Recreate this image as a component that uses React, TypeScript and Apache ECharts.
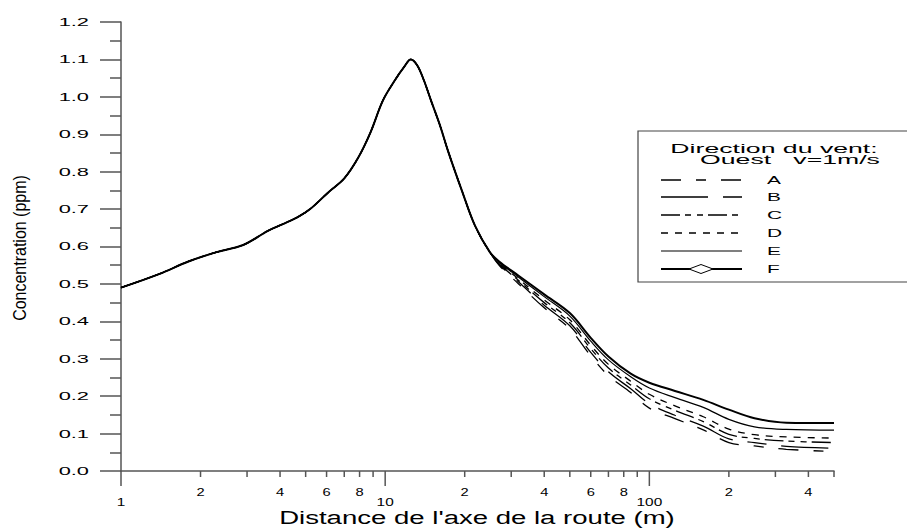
import React, { useEffect, useRef } from "react";
import * as echarts from "echarts";

const FONT = "'Liberation Sans', Arial, Helvetica, sans-serif";

// Shared part of all six curves (distance in m, concentration in ppm)
const xCommon = [1, 1.4, 1.8, 2.3, 2.9, 3.6, 4.1, 4.7, 5.2, 6.1, 7.0, 7.9, 8.8, 9.8, 10.9, 11.8, 12.5, 13.2, 14, 15, 16.1, 17.3, 19.5, 21.9, 24.9];
const yCommon = [0.49, 0.527, 0.56, 0.585, 0.604, 0.642, 0.66, 0.68, 0.70, 0.745, 0.782, 0.837, 0.905, 0.99, 1.045, 1.08, 1.1, 1.085, 1.045, 0.985, 0.925, 0.855, 0.75, 0.655, 0.585];

// Diverging tails
const xTail = [27, 32, 40, 50, 60, 70, 85, 100, 125, 160, 200, 250, 330, 500];
const tailA = [0.55, 0.5, 0.436, 0.38, 0.308, 0.255, 0.21, 0.168, 0.14, 0.11, 0.076, 0.067, 0.058, 0.052];
const tailB = [0.552, 0.505, 0.443, 0.388, 0.317, 0.265, 0.22, 0.18, 0.149, 0.12, 0.086, 0.076, 0.066, 0.061];
const tailC = [0.554, 0.509, 0.45, 0.396, 0.327, 0.275, 0.23, 0.193, 0.162, 0.132, 0.098, 0.087, 0.08, 0.076];
const tailD = [0.556, 0.513, 0.457, 0.404, 0.336, 0.285, 0.24, 0.205, 0.174, 0.145, 0.112, 0.097, 0.091, 0.088];
const tailE = [0.558, 0.518, 0.466, 0.414, 0.347, 0.297, 0.252, 0.222, 0.196, 0.17, 0.138, 0.118, 0.111, 0.109];
const tailF = [0.56, 0.522, 0.472, 0.422, 0.356, 0.306, 0.26, 0.236, 0.214, 0.19, 0.164, 0.141, 0.129, 0.128];

const seriesNames = ["A", "B", "C", "D", "E", "F"];
const seriesTails = [tailA, tailB, tailC, tailD, tailE, tailF];

const xTickValues = [1, 2, 3, 4, 5, 6, 7, 8, 9, 10, 20, 30, 40, 50, 60, 70, 80, 90, 100, 200, 300, 400, 500];
const xTickLabels = ["1", "2", "", "4", "", "6", "", "8", "", "10", "2", "", "4", "", "6", "", "8", "", "100", "2", "", "4", ""];
const xMajorValues = [1, 10, 100];

const yTickValues = [0, 0.1, 0.2, 0.3, 0.4, 0.5, 0.6, 0.7, 0.8, 0.9, 1.0, 1.1, 1.2];
const yTickLabels = ["0.0", "0.1", "0.2", "0.3", "0.4", "0.5", "0.6", "0.7", "0.8", "0.9", "1.0", "1.1", "1.2"];

const xTitle = "Distance de l'axe de la route (m)";
const yTitle = "Concentration (ppm)";
const legendTitle1 = "Direction du vent:";
const legendTitle2 = "Ouest   v=1m/s";

const dashes: any[] = [[20, 15, 10, 15], [47, 15, 19, 15], [19, 5, 6, 6, 6, 5], [7, 7], "solid", "solid"];
const widths = [1.3, 1.3, 1.3, 1.3, 1.2, 2];

export default function App() {
  const ref = useRef<HTMLDivElement>(null);
  useEffect(() => {
    if (!ref.current) return;
    const chart = echarts.init(ref.current, null, { renderer: "svg" });

    const lineSeries = seriesNames.map((name, k) => ({
      name,
      type: "line",
      data: xCommon.map((x, i) => [x, yCommon[i]]).concat(xTail.map((x, i) => [x, seriesTails[k][i]])),
      showSymbol: false,
      symbol: "none",
      smooth: 0.35,
      lineStyle: { color: "#000", width: widths[k], type: dashes[k] },
      z: 2 + k,
      silent: true,
    }));

    const xTickSeries = {
      type: "custom",
      silent: true,
      z: 10,
      clip: false,
      data: xTickValues.map((v) => [v, 0]),
      renderItem: (params: any, api: any) => {
        const i = params.dataIndex;
        const v = xTickValues[i];
        const p = api.coord([v, 0]);
        const major = xMajorValues.includes(v);
        const len = major ? 15 : 6;
        const children: any[] = [
          { type: "line", shape: { x1: p[0], y1: p[1], x2: p[0], y2: p[1] + len }, style: { stroke: "#555", lineWidth: 1.5 } },
        ];
        const t = xTickLabels[i];
        if (t) {
          children.push({
            type: "text",
            x: p[0],
            y: p[1] + (major ? 31 : 21),
            scaleX: 1.4,
            style: { text: t, fontSize: major ? 11 : 10.5, fontFamily: FONT, fill: "#000", align: "center", verticalAlign: "middle" },
          });
        }
        return { type: "group", children };
      },
    };

    const yLabelSeries = {
      type: "custom",
      silent: true,
      z: 10,
      clip: false,
      data: yTickValues.map((v) => [1, v]),
      renderItem: (params: any, api: any) => {
        const i = params.dataIndex;
        const p = api.coord([1, yTickValues[i]]);
        return {
          type: "text",
          x: p[0] - 32,
          y: p[1],
          scaleX: 1.9,
          style: { text: yTickLabels[i], fontSize: 11.5, fontFamily: FONT, fill: "#000", align: "right", verticalAlign: "middle" },
        };
      },
    };

    const rowsY = [180, 197, 215, 233, 251, 269];
    const legendEls: any[] = [
      { type: "rect", shape: { x: 638, y: 131, width: 300, height: 151 }, style: { fill: "#fff", stroke: "#444", lineWidth: 1.2 }, z: 20 },
      { type: "text", x: 774, y: 148, scaleX: 2.05, style: { text: legendTitle1, fontSize: 13, fontFamily: FONT, fill: "#000", align: "center", verticalAlign: "middle" }, z: 21 },
      { type: "text", x: 790, y: 159, scaleX: 2.05, style: { text: legendTitle2, fontSize: 13, fontFamily: FONT, fill: "#000", align: "center", verticalAlign: "middle" }, z: 21 },
    ];
    seriesNames.forEach((name, k) => {
      const y = rowsY[k];
      legendEls.push({
        type: "line",
        shape: { x1: 661, y1: y, x2: 742, y2: y },
        style: { stroke: "#000", lineWidth: widths[k], lineDash: Array.isArray(dashes[k]) ? dashes[k] : null },
        z: 21,
      });
      legendEls.push({
        type: "text",
        x: 767,
        y: y,
        scaleX: 1.9,
        style: { text: name, fontSize: 11, fontFamily: FONT, fill: "#000", align: "left", verticalAlign: "middle" },
        z: 21,
      });
    });
    legendEls.push({
      type: "polygon",
      shape: { points: [[689, 269], [701, 264.5], [713, 269], [701, 273.5]] },
      style: { fill: "#fff", stroke: "#000", lineWidth: 1 },
      z: 22,
    });

    chart.setOption({
      animation: false,
      backgroundColor: "#fff",
      grid: { left: 121, right: 73, top: 22, bottom: 61, containLabel: false, outerBoundsMode: "none" },
      xAxis: {
        type: "log",
        logBase: 10,
        min: 1,
        max: 500,
        axisLine: { show: true, onZero: false, lineStyle: { color: "#555", width: 1.5 } },
        axisTick: { show: false },
        minorTick: { show: false },
        axisLabel: { show: false },
        splitLine: { show: false },
        minorSplitLine: { show: false },
      },
      yAxis: {
        type: "value",
        min: 0,
        max: 1.2,
        interval: 0.1,
        axisLine: { show: true, lineStyle: { color: "#555", width: 1.5 } },
        axisTick: { show: true, inside: false, length: 21, lineStyle: { color: "#555", width: 1.5 } },
        minorTick: { show: true, splitNumber: 2, length: 11, lineStyle: { color: "#555", width: 1.5 } },
        axisLabel: { show: false },
        splitLine: { show: false },
      },
      graphic: [
        { type: "text", x: 477, y: 518, scaleX: 1.45, style: { text: xTitle, fontSize: 19, fontFamily: FONT, fill: "#000", align: "center", verticalAlign: "middle" } },
        { type: "text", x: 19, y: 248, rotation: Math.PI / 2, scaleY: 1.2, style: { text: yTitle, fontSize: 16, fontFamily: FONT, fill: "#000", align: "center", verticalAlign: "middle" } },
        ...legendEls,
      ],
      series: [...lineSeries, xTickSeries, yLabelSeries],
    });

    return () => chart.dispose();
  }, []);

  return <div ref={ref} style={{ position: "fixed", left: 0, top: 0, width: 907, height: 532 }} />;
}
